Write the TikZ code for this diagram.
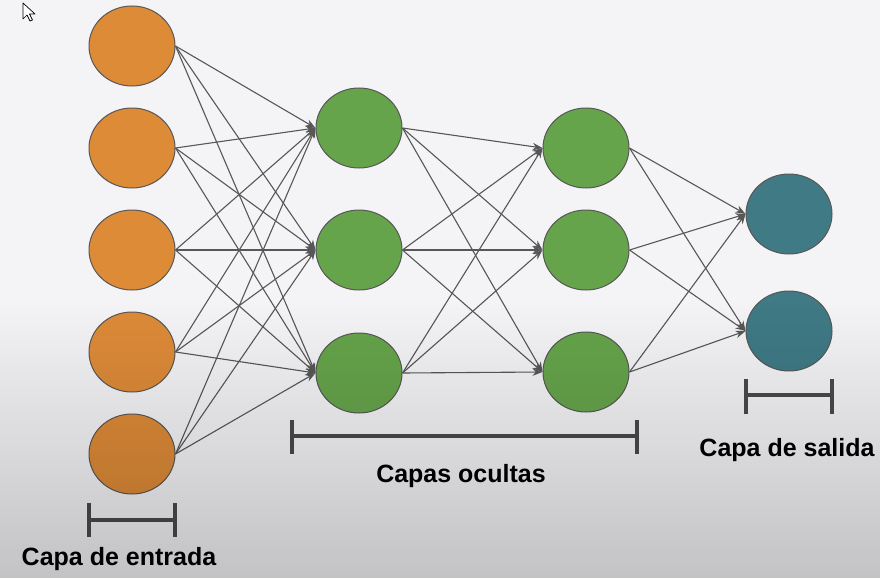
\documentclass[tikz,border=0pt]{standalone}
\usepackage{fontspec}
\setmainfont{Liberation Sans}
\usetikzlibrary{shapes.geometric,arrows.meta,fadings}
\tikzfading[name=darkdown, top color=transparent!100, bottom color=transparent!0]
\definecolor{bgc}{HTML}{F4F4F7}
\definecolor{inc}{HTML}{DE8B38}
\definecolor{hidc}{HTML}{66A44B}
\definecolor{outc}{HTML}{3F7A85}
\definecolor{edgec}{HTML}{575757}
\definecolor{brc}{HTML}{4A4A4A}
\begin{document}
\begin{tikzpicture}[x=1pt,y=-1pt,
  neuron/.style={ellipse, draw=edgec, line width=1pt, minimum width=86pt, minimum height=80pt, inner sep=0pt},
  innode/.style={neuron, fill=inc},
  hidnode/.style={neuron, fill=hidc},
  outnode/.style={neuron, fill=outc},
  conn/.style={draw=edgec, line width=1.1pt, -{Stealth[length=10pt,width=7.5pt]}},
  bracket/.style={draw=brc, line width=4pt},
  lbl/.style={font=\bfseries\fontsize{25}{30}\selectfont, anchor=base, text=black, inner sep=0pt}]
\fill[bgc] (0,0) rectangle (880,578);
\useasboundingbox (0,0) rectangle (880,578);
% cursor
\draw[black, fill=white, line width=0.7pt, line join=round]
  (23,3) -- (23,19) -- (27,15) -- (30,21) -- (32.5,20) -- (29.5,14) -- (35,14) -- cycle;
% input layer
\foreach \i/\y in {1/46,2/148,3/250,4/352,5/454}
  \node[innode] (i\i) at (132,\y) {};
% hidden layer 1
\foreach \i/\y in {1/128,2/250,3/373}
  \node[hidnode] (a\i) at (359,\y) {};
% hidden layer 2
\foreach \i/\y in {1/148,2/250,3/372}
  \node[hidnode] (b\i) at (586,\y) {};
% output layer
\foreach \i/\y in {1/214,2/331}
  \node[outnode] (o\i) at (789,\y) {};
% connections
\foreach \s in {1,...,5}
  \foreach \t in {1,2,3}
    \draw[conn] (i\s.east) -- (a\t.west);
\foreach \s in {1,2,3}
  \foreach \t in {1,2,3}
    \draw[conn] (a\s.east) -- (b\t.west);
\foreach \s in {1,2,3}
  \foreach \t in {1,2}
    \draw[conn] (b\s.east) -- (o\t.west);
% brackets
\draw[bracket] (89,503) -- (89,537) (89,520) -- (175,520) (175,503) -- (175,537);
\draw[bracket] (292,420) -- (292,454) (292,436) -- (637,436) (637,420) -- (637,454);
\draw[bracket] (746,379) -- (746,414) (746,395) -- (832,395) (832,379) -- (832,414);
% labels
\node[lbl] (l1) at (119,565) {Capa de entrada};
\node[lbl] (l2) at (461,482) {Capas ocultas};
\node[lbl] (l3) at (787,456) {Capa de salida};
% bottom darkening
\fill[black, fill opacity=0.2, path fading=darkdown] (0,300) rectangle (880,578);
\end{tikzpicture}
\end{document}
